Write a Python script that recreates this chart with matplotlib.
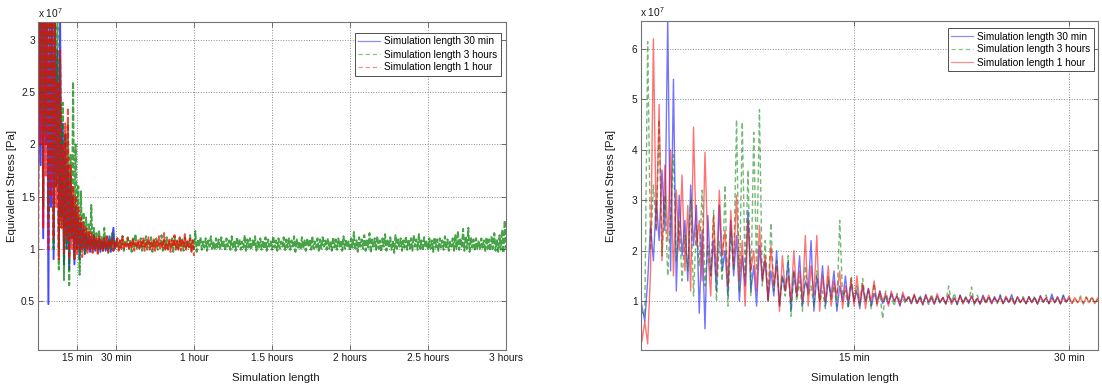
import numpy as np
import matplotlib
matplotlib.use("Agg")
import matplotlib.pyplot as plt
from matplotlib.ticker import FixedLocator, FuncFormatter

plt.rcParams['font.family'] = ['Liberation Sans', 'DejaVu Sans']
plt.rcParams['mathtext.fontset'] = 'custom'
plt.rcParams['mathtext.rm'] = 'Liberation Sans'
plt.rcParams['mathtext.default'] = 'regular'

# ---------------------------------------------------------------------------
# Equivalent stress (units of 1e7 Pa) against simulated time.
# Full-length runs: one sample every 0.5 min.
# ---------------------------------------------------------------------------
full_step_min = 0.5

full_30min = [
    1.3, 3.6, 1.8, 4.2, 1.1, 3.8, 2.0, 3.5, 0.47, 3.3,
    1.4, 3.4, 0.9, 3.3, 1.6, 2.9, 1.0, 3.2, 1.3, 2.2,
    0.85, 2.1, 1.0, 1.8, 0.8, 1.7, 1.1, 1.5, 0.85, 1.4,
    1.0, 1.3, 0.9, 1.25, 1.0, 1.2, 0.95, 1.15, 1.0, 1.12,
    0.97, 1.1, 1.0, 1.13, 0.98, 1.08, 1.0, 1.1, 0.97, 1.07,
    1.0, 1.1, 0.98, 1.06, 1.0, 1.12, 0.97, 1.08, 1.2, 1.0,
    1.05,
]

full_1hour = [
    0.29, 3.8, 2.0, 4.0, 1.2, 3.9, 1.7, 4.2, 1.0, 3.7,
    1.5, 3.6, 1.1, 3.4, 1.4, 2.6, 0.9, 2.9, 1.2, 2.0,
    0.95, 2.2, 1.1, 2.35, 0.9, 1.8, 1.0, 1.6, 0.9, 1.5,
    0.95, 1.4, 1.0, 1.3, 0.92, 1.25, 1.0, 1.2, 0.95, 1.18,
    1.0, 1.15, 0.96, 1.12, 1.0, 1.1, 0.95, 1.13, 1.0, 1.08,
    0.98, 1.1, 1.0, 1.12, 0.97, 1.08, 1.01, 1.1, 0.98, 1.07,
    1.02, 1.1, 0.98, 1.08, 1.0, 1.12, 0.99, 1.06, 1.02, 1.1,
    0.99, 1.07, 1.01, 1.1, 0.98, 1.06, 1.02, 1.09, 1.0, 1.07,
    1.01, 1.1, 0.98, 1.07, 1.02, 1.11, 0.99, 1.06, 1.0, 1.09,
    0.98, 1.08, 1.02, 1.12, 0.99, 1.07, 1.01, 1.15, 0.98, 1.06,
    1.0, 1.1, 0.97, 1.08, 1.02, 1.13, 0.99, 1.07, 1.0, 1.11,
    0.98, 1.09, 1.01, 1.14, 0.99, 1.07, 1.02, 1.1, 0.97, 1.08,
    0.93,
]

full_3hours = [
    1.6, 3.5, 2.3, 3.8, 1.4, 4.0, 2.1, 3.6, 1.3, 3.9,
    1.8, 3.7, 1.0, 3.5, 1.6, 3.3, 0.8, 2.8, 1.2, 2.4,
    0.7, 2.1, 1.0, 2.2, 0.65, 1.9, 1.1, 2.6, 0.9, 2.0,
    1.0, 1.6, 0.75, 1.55, 1.0, 1.35, 0.95, 1.3, 1.0, 1.25,
    1.0, 1.42, 0.97, 1.2, 1.0, 1.15, 0.95, 1.18, 1.0, 1.12,
    0.98, 1.2, 1.0, 1.13, 0.96, 1.1, 1.0, 1.15, 0.98, 1.08,
    1.02, 1.1, 0.99, 1.08, 1.01, 1.12, 0.98, 1.07, 1.03, 1.11,
    1.0, 1.09, 0.97, 1.1, 1.02, 1.14, 0.99, 1.06, 1.01, 1.1,
    0.98, 1.08, 1.02, 1.12, 0.99, 1.07, 1.01, 1.11, 0.97, 1.09,
    1.01, 1.1, 0.99, 1.06, 1.03, 1.13, 0.98, 1.08, 1.0, 1.11,
    0.99, 1.07, 1.02, 1.1, 0.97, 1.12, 1.01, 1.08, 0.99, 1.1,
    1.02, 1.09, 0.98, 1.11, 1.0, 1.07, 1.01, 1.13, 0.98, 1.08,
    1.0, 1.17, 0.97, 1.09, 1.02, 1.11, 0.99, 1.07, 1.01, 1.1,
    0.98, 1.08, 1.02, 1.12, 1.0, 1.06, 0.99, 1.1, 1.01, 1.09,
    0.99, 1.11, 1.01, 1.07, 0.98, 1.1, 1.02, 1.08, 0.99, 1.12,
    1.0, 1.08, 0.98, 1.11, 1.02, 1.09, 0.99, 1.07, 1.01, 1.13,
    0.98, 1.09, 1.01, 1.1, 0.99, 1.08, 1.02, 1.12, 0.98, 1.07,
    1.01, 1.1, 0.99, 1.08, 1.0, 1.11, 0.98, 1.09, 1.02, 1.07,
    0.99, 1.12, 1.01, 1.08, 0.98, 1.1, 1.0, 1.07, 1.02, 1.11,
    0.98, 1.09, 1.01, 1.1, 0.99, 1.08, 1.02, 1.12, 0.97, 1.09,
    1.01, 1.07, 0.99, 1.11, 1.0, 1.08, 0.98, 1.1, 1.02, 1.09,
    0.99, 1.12, 1.0, 1.07, 1.01, 1.1, 0.98, 1.09, 1.0, 1.11,
    1.02, 1.08, 0.99, 1.1, 1.0, 1.07, 0.98, 1.11, 1.01, 1.09,
    0.99, 1.1, 1.02, 1.08, 0.98, 1.12, 1.0, 1.09, 1.01, 1.07,
    0.98, 1.1, 1.01, 1.16, 0.99, 1.08, 0.97, 1.11, 1.02, 1.09,
    1.0, 1.13, 0.98, 1.08, 1.01, 1.15, 0.96, 1.09, 1.02, 1.1,
    0.99, 1.12, 1.0, 1.08, 0.97, 1.1, 1.02, 1.14, 0.98, 1.09,
    1.01, 1.11, 0.99, 1.08, 0.96, 1.13, 1.0, 1.09, 1.02, 1.1,
    0.98, 1.08, 1.01, 1.12, 0.99, 1.09, 1.0, 1.1, 0.98, 1.13,
    1.02, 1.09, 0.99, 1.14, 1.0, 1.08, 0.98, 1.11, 1.01, 1.07,
    0.99, 1.1, 1.0, 1.08, 0.97, 1.11, 1.01, 1.09, 0.98, 1.1,
    1.01, 1.08, 0.99, 1.12, 1.0, 1.09, 0.98, 1.07, 1.02, 1.1,
    0.98, 1.13, 1.0, 1.17, 0.99, 1.1, 1.01, 1.19, 0.98, 1.12,
    1.0, 1.2, 0.97, 1.11, 1.01, 1.09, 0.98, 1.1, 1.0, 1.08,
    0.99, 1.1, 1.01, 1.08, 0.97, 1.11, 1.0, 1.09, 0.98, 1.12,
    1.0, 1.15, 0.98, 1.09, 0.97, 1.13, 0.99, 1.18, 0.96, 1.27,
    1.0,
]

# ---------------------------------------------------------------------------
# First half hour in detail: one sample every 0.2 min.
# ---------------------------------------------------------------------------
detail_step_min = 0.2

detail_30min = [
    1.2, 0.9, 0.6, 1.4, 2.5, 1.8,
    3.0, 2.2, 3.6, 2.4, 6.6, 1.6, 5.4, 1.2, 3.1, 1.9,
    2.6, 1.4, 3.3, 2.1, 2.9, 0.76, 2.4, 0.45, 2.7, 1.5,
    2.2, 1.2, 2.9, 1.6, 2.0, 1.1, 2.6, 1.5, 2.3, 1.0,
    1.9, 1.3, 2.8, 1.2, 1.7, 0.9, 2.1, 1.4, 1.8, 1.0,
    1.6, 1.1, 2.0, 0.9, 1.5, 1.2, 1.8, 0.8, 1.6, 1.1,
    1.9, 0.9, 1.4, 1.2, 2.2, 0.8, 1.5, 1.0, 1.7, 0.9,
    1.4, 1.1, 1.6, 0.8, 1.3, 1.0, 1.5, 0.9, 1.35, 1.0,
    1.2, 0.85, 1.3, 1.0, 1.25, 0.9, 1.15, 1.0, 1.2, 0.95,
    1.1, 0.95, 1.15, 1.0, 1.1, 0.9, 1.12, 1.0, 1.08, 0.95,
    1.12, 0.95, 1.08, 0.93, 1.13, 0.97, 1.06, 0.94, 1.1, 0.98,
    1.07, 0.94, 1.11, 0.98, 1.06, 0.93, 1.12, 0.97, 1.08, 0.95,
    1.1, 0.96, 1.05, 0.94, 1.12, 0.98, 1.07, 0.95, 1.09, 0.97,
    1.11, 0.95, 1.06, 0.97, 1.13, 0.94, 1.08, 0.98, 1.05, 0.95,
    1.09, 0.97, 1.07, 0.94, 1.11, 0.98, 1.06, 0.95, 1.14, 0.97,
    1.08, 0.95, 1.12, 0.99, 1.04,
]

detail_3hours = [
    1.1, 0.8, 0.7, 6.15, 2.0, 3.3,
    2.4, 4.6, 1.9, 3.1, 1.5, 2.7, 3.9, 1.8, 2.6, 1.4,
    2.3, 1.6, 3.0, 1.1, 2.5, 1.7, 3.2, 1.3, 2.1, 1.5,
    2.8, 1.0, 2.2, 1.4, 3.3, 0.9, 2.4, 1.6, 4.6, 1.2,
    4.55, 1.5, 3.6, 1.1, 4.35, 1.6, 4.8, 1.3, 2.2, 1.0,
    2.55, 1.2, 1.8, 0.9, 1.5, 1.1, 1.9, 0.7, 1.6, 1.0,
    1.4, 0.8, 1.7, 1.1, 1.3, 0.9, 1.6, 1.0, 1.2, 0.85,
    1.5, 1.0, 1.3, 0.9, 2.6, 1.1, 1.2, 0.85, 1.5, 1.0,
    1.3, 0.9, 1.45, 1.0, 1.2, 0.85, 1.35, 0.95, 1.15, 0.65,
    1.2, 1.0, 1.1, 0.9, 1.15, 1.0, 1.05, 0.95, 1.12, 0.98,
    1.1, 0.94, 1.12, 0.98, 1.06, 0.93, 1.14, 0.97, 1.08, 0.95,
    1.07, 0.96, 1.3, 0.97, 1.16, 0.93, 1.11, 0.95, 1.08, 0.98,
    1.28, 0.9, 1.12, 0.97, 1.07, 0.94, 1.1, 0.98, 1.06, 0.95,
    1.13, 0.96, 1.07, 0.98, 1.1, 0.94, 1.06, 0.97, 1.09, 0.95,
    1.07, 0.97, 1.1, 0.94, 1.06, 0.98, 1.12, 0.95, 1.08, 0.97,
    1.05, 0.95, 1.11, 0.98, 1.07, 0.94, 1.06, 0.97, 1.1, 0.96,
    1.08, 0.97, 1.09, 0.95, 1.04,
]

detail_1hour = [
    1.25, 0.2, 0.6, 0.15, 1.6, 6.2,
    2.4, 4.9, 1.8, 3.7, 2.2, 4.0, 1.5, 3.2, 2.0, 3.5,
    1.6, 2.9, 1.2, 4.45, 2.1, 2.6, 1.4, 3.95, 2.0, 1.1,
    2.7, 1.5, 3.2, 1.9, 2.4, 1.3, 2.8, 1.7, 3.1, 1.4,
    2.2, 0.9, 2.6, 1.6, 2.0, 1.2, 2.5, 1.4, 1.9, 1.0,
    2.1, 1.3, 1.7, 0.8, 1.9, 1.2, 1.5, 1.0, 2.0, 1.1,
    1.6, 1.0, 2.3, 0.9, 1.7, 1.1, 2.3, 0.8, 1.5, 1.0,
    1.7, 0.9, 1.4, 1.1, 1.6, 0.85, 1.3, 1.0, 1.45, 0.9,
    1.5, 0.95, 1.35, 0.85, 1.25, 1.0, 1.4, 0.9, 1.2, 1.0,
    1.15, 0.9, 1.2, 1.0, 1.1, 0.92, 1.18, 1.0, 1.08, 0.95,
    1.14, 0.96, 1.07, 0.92, 1.12, 0.98, 1.09, 0.94, 1.15, 0.97,
    1.08, 0.94, 1.13, 0.93, 1.06, 0.97, 1.11, 0.94, 1.07, 0.98,
    1.1, 0.96, 1.06, 0.94, 1.09, 0.97, 1.12, 0.95, 1.06, 0.98,
    1.07, 0.95, 1.1, 0.98, 1.05, 0.94, 1.09, 0.97, 1.06, 0.95,
    1.09, 0.97, 1.06, 0.94, 1.1, 0.98, 1.07, 0.95, 1.05, 0.97,
    1.09, 0.94, 1.06, 0.98, 1.1, 0.95, 1.07, 0.97, 1.06, 0.94,
    1.08, 0.97, 1.07, 0.95, 1.06,
]

series_labels = ['Simulation length 30 min',
                 'Simulation length 3 hours',
                 'Simulation length 1 hour']

full_ticks = [15, 30, 60, 90, 120, 150, 180]
full_ticklabels = ['15 min', '30 min', '1 hour', '1.5 hours',
                   '2 hours', '2.5 hours', '3 hours']
detail_ticks = [15, 30]
detail_ticklabels = ['15 min', '30 min']
full_yticks = [0.5, 1, 1.5, 2, 2.5, 3]
detail_yticks = [1, 2, 3, 4, 5, 6]

BLUE = (0.0, 0.0, 1.0)
GREEN = (0.0, 0.5, 0.0)
RED = (1.0, 0.0, 0.0)

W, H = 1102, 387
fig = plt.figure(figsize=(W / 100, H / 100), dpi=100)


def px_axes(x0, y0, x1, y1):
    return fig.add_axes([x0 / W, 1 - y1 / H, (x1 - x0) / W, (y1 - y0) / H])


ax1 = px_axes(38, 22, 506, 350)
ax2 = px_axes(640.5, 21, 1097.7, 350)


def times(values, step):
    return np.arange(len(values)) * step


def plot_set(ax, data, step, red_dashed, lw, alpha, dash):
    b, g, r = data
    ax.plot(times(b, step), b, color=BLUE, lw=lw, alpha=alpha, ls='-',
            label=series_labels[0])
    ax.plot(times(g, step), g, color=GREEN, lw=lw, alpha=alpha, ls='--',
            dashes=dash, label=series_labels[1])
    if red_dashed:
        ax.plot(times(r, step), r, color=RED, lw=lw, alpha=alpha, ls='--',
                dashes=dash, label=series_labels[2])
    else:
        ax.plot(times(r, step), r, color=RED, lw=lw, alpha=alpha, ls='-',
                label=series_labels[2])


plot_set(ax1, (full_30min, full_3hours, full_1hour), full_step_min,
         True, 1.4, 0.72, (3.0, 1.1))
plot_set(ax2, (detail_30min, detail_3hours, detail_1hour), detail_step_min,
         False, 1.0, 0.55, (3.5, 2.2))

ax1.set_xlim(0, 180)
ax1.set_ylim(0.03, 3.172)
ax2.set_xlim(0.1, 32.0)
ax2.set_ylim(0.03, 6.556)

fmt = FuncFormatter(lambda v, p: f'{v:g}')
for ax, xt, xl, yt in ((ax1, full_ticks, full_ticklabels, full_yticks),
                       (ax2, detail_ticks, detail_ticklabels, detail_yticks)):
    ax.xaxis.set_major_locator(FixedLocator(xt))
    ax.set_xticklabels(xl)
    ax.yaxis.set_major_locator(FixedLocator(yt))
    ax.yaxis.set_major_formatter(fmt)
    ax.grid(True, linestyle=':', color='0.55', linewidth=0.7)
    ax.tick_params(direction='in', top=True, right=True, length=3.5,
                   width=0.6, color='0.35', labelcolor='0.1', labelsize=7.3)
    ax.tick_params(axis='x', pad=2.0)
    ax.tick_params(axis='y', pad=2.2)
    for s in ax.spines.values():
        s.set_color('0.45')
        s.set_linewidth(0.8)
    ax.text(0.0, 1.0 + 3.7 / 328, r'x 10$^{7}$', transform=ax.transAxes,
            ha='left', va='baseline', fontsize=7.3, color='0.1')

ax1.set_ylabel('Equivalent Stress [Pa]', fontsize=8.2, color='0.1',
               ha='center', va='center')
ax1.yaxis.set_label_coords((12 - 38) / 468, 0.5)
ax2.set_ylabel('Equivalent Stress [Pa]', fontsize=8.2, color='0.1',
               ha='center', va='center')
ax2.yaxis.set_label_coords((611 - 640.5) / 457.2, 0.5)

ax1.set_xlabel('Simulation length', fontsize=8.2, color='0.1',
               ha='center', va='center')
ax1.xaxis.set_label_coords((276 - 38) / 468, -(378 - 350) / 328)
ax2.set_xlabel('Simulation length', fontsize=8.2, color='0.1',
               ha='center', va='center')
ax2.xaxis.set_label_coords((855 - 640.5) / 457.2, -(378 - 350) / 329)

for ax, gx, gy in ((ax1, 5.3 / 468, 11 / 328), (ax2, 3.7 / 457.2, 7 / 329)):
    leg = ax.legend(loc='upper right', bbox_to_anchor=(1 - gx, 1 - gy),
                    borderaxespad=0, fontsize=7.2, frameon=True,
                    fancybox=False, framealpha=1, edgecolor='0.2',
                    handlelength=2.2, handletextpad=0.4, labelspacing=0.3,
                    borderpad=0.35)
    leg.get_frame().set_linewidth(0.6)
    for handle in leg.get_lines():
        handle.set_alpha(0.45)
        handle.set_linewidth(0.9)
        if handle.get_linestyle() != '-':
            handle.set_dashes((3.5, 2.2))

fig.savefig('out.png', dpi=100, facecolor='white')
